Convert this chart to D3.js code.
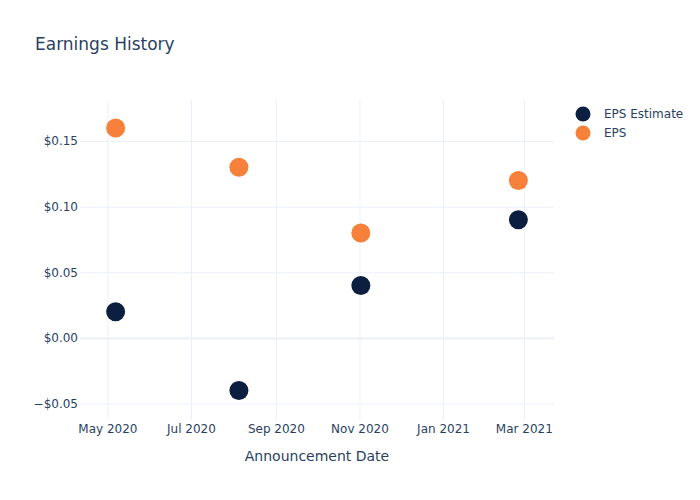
<!DOCTYPE html>
<html>
<head>
<meta charset="utf-8">
<script src="https://cdn.jsdelivr.net/npm/d3@7"></script>
<style>
  body { margin: 0; background: #fff; }
  text { font-family: "DejaVu Sans", sans-serif; fill: #2a3f5f; }
</style>
</head>
<body>
<div id="chart"></div>
<script>
// announcement dates and eps values
const dates = ['2020-05-07', '2020-08-05', '2020-11-02', '2021-02-25'];
const epsEstimate = [0.02, -0.04, 0.04, 0.09];
const epsActual = [0.16, 0.13, 0.08, 0.12];
const xTickDates = ['2020-05-01', '2020-07-01', '2020-09-01', '2020-11-01', '2021-01-01', '2021-03-01'];
const yTicks = [-0.05, 0, 0.05, 0.10, 0.15];
const seriesNames = ['EPS Estimate', 'EPS'];
const seriesColors = ['#0c1f40', '#f7803a'];

const parseDate = d3.timeParse('%Y-%m-%d');

const width = 700, height = 500;
const margin = {top: 100, right: 146, bottom: 80, left: 80};
const chartW = width - margin.left - margin.right;
const chartH = height - margin.top - margin.bottom;

const svg = d3.select('#chart').append('svg')
    .attr('width', width).attr('height', height);

const g = svg.append('g')
    .attr('transform', `translate(${margin.left},${margin.top})`);

const xScale = d3.scaleTime()
    .domain([parseDate('2020-04-11'), parseDate('2021-03-23')])
    .range([0, chartW]);
const yScale = d3.scaleLinear()
    .domain([-0.0625, 0.1813])
    .range([chartH, 0]);

// grid
const xAxis = d3.axisBottom(xScale)
    .tickValues(xTickDates.map(parseDate))
    .tickFormat(d3.timeFormat('%b %Y'))
    .tickSize(-chartH).tickPadding(4);
const xAxisG = g.append('g').attr('transform', `translate(0,${chartH})`).call(xAxis);
xAxisG.select('.domain').remove();
xAxisG.selectAll('line').attr('stroke', '#ebf0f8');
xAxisG.selectAll('text').style('font-size', '12px').attr('dy', '0.71em');

const yAxis = d3.axisLeft(yScale)
    .tickValues(yTicks)
    .tickFormat(d => (d < 0 ? '\u2212$' : '$') + Math.abs(d).toFixed(2))
    .tickSize(-chartW).tickPadding(2);
const yAxisG = g.append('g').call(yAxis);
yAxisG.select('.domain').remove();
yAxisG.selectAll('line')
    .attr('stroke', '#ebf0f8')
    .attr('stroke-width', d => (d === 0 ? 2 : 1));
yAxisG.selectAll('text').style('font-size', '12px');

// points
const series = [epsEstimate, epsActual];
series.forEach((vals, si) => {
    g.selectAll(`.pt-${si}`)
        .data(vals.map((v, i) => ({date: parseDate(dates[i]), value: v})))
        .enter().append('circle')
        .attr('class', `pt-${si}`)
        .attr('cx', d => xScale(d.date))
        .attr('cy', d => yScale(d.value))
        .attr('r', 9.5)
        .attr('fill', seriesColors[si]);
});

// title
svg.append('text')
    .attr('x', 35).attr('y', 50)
    .style('font-size', '17px')
    .text('Earnings History');

// axis label
svg.append('text')
    .attr('x', margin.left + chartW / 2).attr('y', 461)
    .attr('text-anchor', 'middle')
    .style('font-size', '14px')
    .text('Announcement Date');

// legend
const legend = svg.append('g').attr('transform', 'translate(583,114)');
seriesNames.forEach((name, i) => {
    const row = legend.append('g').attr('transform', `translate(0,${i * 19})`);
    row.append('circle').attr('r', 7.5).attr('fill', seriesColors[i]);
    row.append('text').attr('x', 21).attr('dy', '0.35em')
        .style('font-size', '12px').text(name);
});
</script>
</body>
</html>
